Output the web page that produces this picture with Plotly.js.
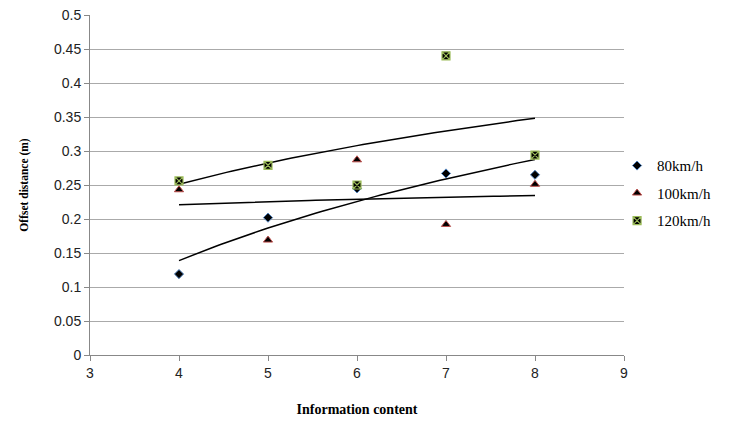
<!DOCTYPE html>
<html>
<head>
<meta charset="utf-8">
<script src="https://cdn.plot.ly/plotly-3.0.1.min.js"></script>
<style>html,body{margin:0;padding:0;background:#fff}#chart{width:729px;height:423px}</style>
</head>
<body>
<div id="chart"></div>
<script>
// Data
const infoContent = [4, 5, 6, 7, 8];
const seriesNames = ["80km/h", "100km/h", "120km/h"];
const offset80 = [0.119, 0.202, 0.245, 0.267, 0.265];
const offset100 = [0.243, 0.169, 0.287, 0.192, 0.251];
const offset120 = [0.256, 0.279, 0.250, 0.440, 0.294];
const xTicks = [3, 4, 5, 6, 7, 8, 9];
const yTicks = [0, 0.05, 0.1, 0.15, 0.2, 0.25, 0.3, 0.35, 0.4, 0.45, 0.5];

// Logarithmic least-squares trendline (like Excel's log trendline)
function logFit(xs, ys) {
  const lx = xs.map(Math.log);
  const n = xs.length;
  const mx = lx.reduce((a, b) => a + b, 0) / n;
  const my = ys.reduce((a, b) => a + b, 0) / n;
  let sxy = 0, sxx = 0;
  for (let i = 0; i < n; i++) { sxy += (lx[i] - mx) * (ys[i] - my); sxx += (lx[i] - mx) ** 2; }
  const b = sxy / sxx, a = my - b * mx;
  const x0 = Math.min(...xs), x1 = Math.max(...xs);
  const tx = [], ty = [];
  for (let i = 0; i <= 60; i++) { const x = x0 + (x1 - x0) * i / 60; tx.push(x); ty.push(a + b * Math.log(x)); }
  return {x: tx, y: ty};
}

const seriesY = [offset80, offset100, offset120];
const traces = [];
seriesY.forEach(ys => {
  const f = logFit(infoContent, ys);
  traces.push({x: f.x, y: f.y, mode: 'lines', line: {color: '#000', width: 1.5}, showlegend: false, hoverinfo: 'skip'});
});
traces.push({x: infoContent, y: offset80, name: seriesNames[0], legendgroup: 'a', mode: 'markers', type: 'scatter',
  marker: {symbol: 'diamond', size: 7, color: '#000', line: {color: '#4F81BD', width: 1}}});
traces.push({x: infoContent, y: offset100, name: seriesNames[1], legendgroup: 'b', mode: 'markers', type: 'scatter',
  marker: {symbol: 'triangle-up', size: 8, color: '#000', line: {color: '#C0504D', width: 1}}});
traces.push({x: infoContent, y: offset120, name: seriesNames[2], legendgroup: 'c', mode: 'markers', type: 'scatter',
  marker: {symbol: 'square-x', size: 8, color: '#000', line: {color: '#9BBB59', width: 1.2}}});

const layout = {
  width: 729, height: 423,
  margin: {l: 90, r: 105, t: 15, b: 68, autoexpand: false},
  paper_bgcolor: '#fff', plot_bgcolor: '#fff',
  showlegend: true,
  legend: {x: 0.987, y: 0.605, xanchor: 'left', yanchor: 'top', font: {family: 'Liberation Serif', size: 15, color: '#000'}, tracegroupgap: 5, itemwidth: 30, bgcolor: 'rgba(0,0,0,0)'},
  xaxis: {
    range: [3, 9], tickvals: xTicks, ticktext: xTicks.map(String),
    showgrid: false, zeroline: false, showline: true, linecolor: '#888', linewidth: 1,
    ticks: 'outside', ticklen: 5, tickcolor: '#888',
    tickfont: {family: 'Liberation Sans', size: 14, color: '#222'},
    title: {text: '<b>Information content</b>', font: {family: 'Liberation Serif', size: 14, color: '#000'}, standoff: 24}
  },
  yaxis: {
    range: [0, 0.5], tickvals: yTicks, ticktext: yTicks.map(String),
    showgrid: true, gridcolor: '#aaa', gridwidth: 1, zeroline: false, showline: true, linecolor: '#888', linewidth: 1,
    ticks: 'outside', ticklen: 5, tickcolor: '#888',
    tickfont: {family: 'Liberation Sans', size: 14, color: '#222'},
    title: {text: '<b>Offset distance (m)</b>', font: {family: 'Liberation Serif', size: 11.5, color: '#000'}, standoff: 22}
  }
};
Plotly.newPlot('chart', traces, layout, {displayModeBar: false, staticPlot: true});
</script>
</body>
</html>
